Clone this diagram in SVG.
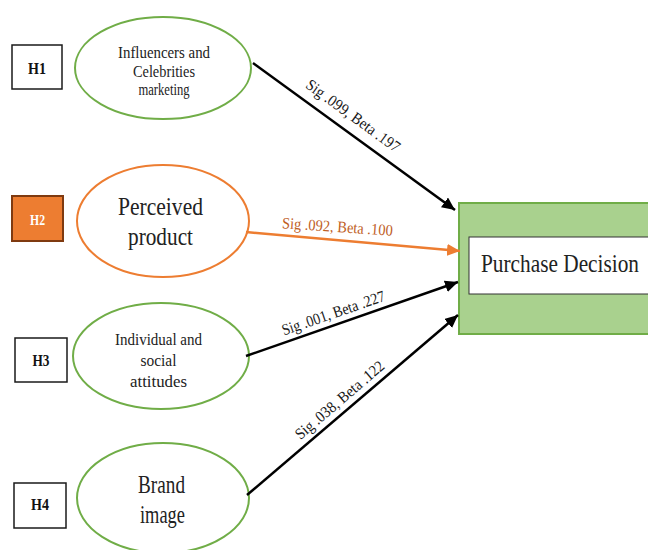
<svg xmlns="http://www.w3.org/2000/svg" width="648" height="550" viewBox="0 0 648 550">
  <style>
    .hbox { fill: #ffffff; stroke: #1a1a1a; stroke-width: 1.5; }
    .hbox-hot { fill: #ed7d31; stroke: #7f3a10; stroke-width: 2; }
    .hlabel { font-family: "Liberation Serif", serif; font-weight: bold; font-size: 16px; fill: #111; text-anchor: middle; }
    .ell-green { fill: #ffffff; stroke: #70ad47; stroke-width: 2; }
    .ell-orange { fill: #ffffff; stroke: #ed7d31; stroke-width: 2; }
    .node-sm { font-family: "Liberation Serif", serif; font-size: 16px; fill: #222; text-anchor: middle; }
    .node-lg { font-family: "Liberation Serif", serif; font-size: 26px; fill: #222; text-anchor: middle; }
    .edge { fill: none; stroke: #000; stroke-width: 2.5; }
    .edge-hot { fill: none; stroke: #ed7d31; stroke-width: 2.5; }
    .elabel { font-family: "Liberation Serif", serif; font-size: 16px; fill: #1a1a1a; text-anchor: middle; }
    .elabel-hot { font-family: "Liberation Serif", serif; font-size: 16px; fill: #c0601f; text-anchor: middle; }
  </style>
  <defs>
    <marker id="arrow" markerUnits="userSpaceOnUse" markerWidth="14" markerHeight="12" refX="13" refY="6" orient="auto">
      <path d="M0,0 L13,6 L0,12 Z" fill="#000"/>
    </marker>
    <marker id="arrow-hot" markerUnits="userSpaceOnUse" markerWidth="14" markerHeight="12" refX="13" refY="6" orient="auto">
      <path d="M0,0 L13,6 L0,12 Z" fill="#ed7d31"/>
    </marker>
  </defs>

  <rect width="648" height="550" fill="#ffffff"/>

  <!-- hypothesis tags -->
  <g id="h1">
    <rect class="hbox" x="12" y="45" width="50" height="44"/>
    <text class="hlabel" x="37" y="74" textLength="18" lengthAdjust="spacingAndGlyphs">H1</text>
  </g>
  <g id="h2">
    <rect class="hbox-hot" x="12" y="196" width="51" height="45"/>
    <text class="hlabel" x="37.5" y="225" style="fill:#ffffff;font-size:14px" textLength="15" lengthAdjust="spacingAndGlyphs">H2</text>
  </g>
  <g id="h3">
    <rect class="hbox" x="15" y="338" width="52" height="44"/>
    <text class="hlabel" x="41" y="366" textLength="17" lengthAdjust="spacingAndGlyphs">H3</text>
  </g>
  <g id="h4">
    <rect class="hbox" x="14" y="483" width="52" height="45"/>
    <text class="hlabel" x="40" y="510" textLength="18" lengthAdjust="spacingAndGlyphs">H4</text>
  </g>

  <!-- predictor constructs -->
  <g id="influencers">
    <ellipse class="ell-green" cx="163" cy="68" rx="88" ry="51"/>
    <text class="node-sm" x="164" y="58" textLength="92" lengthAdjust="spacingAndGlyphs">Influencers and</text>
    <text class="node-sm" x="164" y="77" textLength="62" lengthAdjust="spacingAndGlyphs">Celebrities</text>
    <text class="node-sm" x="164" y="95" textLength="51" lengthAdjust="spacingAndGlyphs">marketing</text>
  </g>
  <g id="perceived-product">
    <ellipse class="ell-orange" cx="163" cy="221" rx="86" ry="56"/>
    <text class="node-lg" x="160.5" y="215" textLength="85" lengthAdjust="spacingAndGlyphs">Perceived</text>
    <text class="node-lg" x="160.5" y="245" textLength="65" lengthAdjust="spacingAndGlyphs">product</text>
  </g>
  <g id="attitudes">
    <ellipse class="ell-green" cx="161" cy="356" rx="88" ry="53"/>
    <text class="node-sm" x="158.5" y="345" textLength="87" lengthAdjust="spacingAndGlyphs">Individual and</text>
    <text class="node-sm" x="158.5" y="366" textLength="36" lengthAdjust="spacingAndGlyphs">social</text>
    <text class="node-sm" x="158.5" y="387" textLength="57" lengthAdjust="spacingAndGlyphs">attitudes</text>
  </g>
  <g id="brand-image">
    <ellipse class="ell-green" cx="163" cy="498" rx="86" ry="55"/>
    <text class="node-lg" x="161.5" y="493" textLength="47" lengthAdjust="spacingAndGlyphs">Brand</text>
    <text class="node-lg" x="162.5" y="523" textLength="45" lengthAdjust="spacingAndGlyphs">image</text>
  </g>

  <!-- outcome construct -->
  <g id="purchase-decision">
    <rect x="459" y="203" width="200" height="131" fill="#a9d18e" stroke="#70ad47" stroke-width="2"/>
    <rect x="469" y="237" width="190" height="57" fill="#ffffff" stroke="#333" stroke-width="1"/>
    <text class="node-lg" x="560" y="272" textLength="158" lengthAdjust="spacingAndGlyphs">Purchase Decision</text>
  </g>

  <!-- paths with estimates -->
  <g id="connectors">
    <line class="edge" x1="253" y1="63" x2="455" y2="210" marker-end="url(#arrow)"/>
    <line class="edge-hot" x1="246" y1="232" x2="460" y2="251" marker-end="url(#arrow-hot)"/>
    <line class="edge" x1="246" y1="356" x2="458" y2="282" marker-end="url(#arrow)"/>
    <line class="edge" x1="247" y1="495" x2="458" y2="315" marker-end="url(#arrow)"/>

    <text class="elabel" transform="translate(350,120) rotate(36)" textLength="112" lengthAdjust="spacingAndGlyphs">Sig .099, Beta .197</text>
    <text class="elabel-hot" transform="translate(337,232) rotate(4)" textLength="111" lengthAdjust="spacingAndGlyphs">Sig .092, Beta .100</text>
    <text class="elabel" transform="translate(335,318) rotate(-19)" textLength="108" lengthAdjust="spacingAndGlyphs">Sig .001, Beta .227</text>
    <text class="elabel" transform="translate(343,404) rotate(-40.5)" textLength="112" lengthAdjust="spacingAndGlyphs">Sig .038, Beta .122</text>
  </g>
</svg>
